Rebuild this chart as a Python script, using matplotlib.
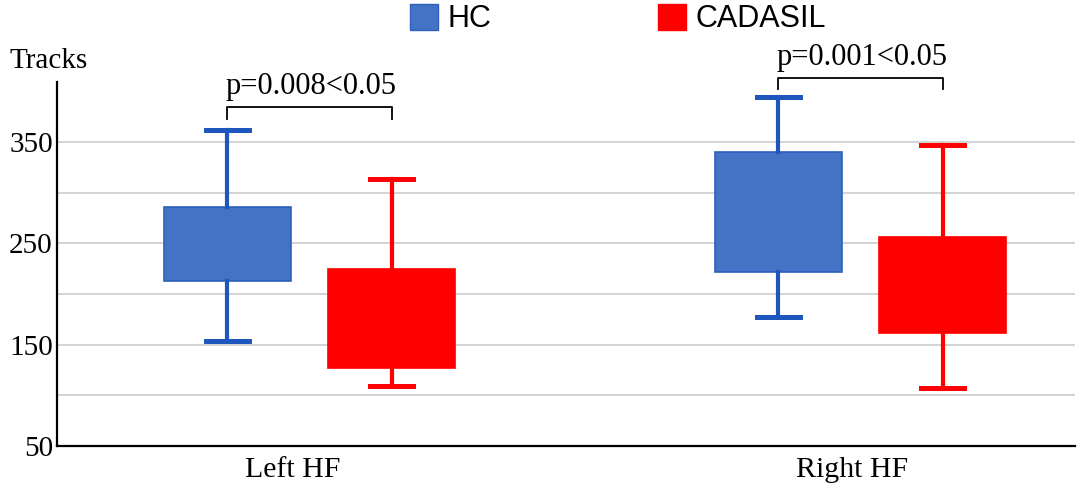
import matplotlib
matplotlib.use("Agg")
import matplotlib.pyplot as plt
from matplotlib.patches import Patch

# ---- data ----
categories = ["Left HF", "Right HF"]
groups = ["HC", "CADASIL"]
hc_whislo = [154, 177]
hc_q1 = [213, 222]
hc_q3 = [286, 340]
hc_whishi = [362, 394]
cad_whislo = [109, 107]
cad_q1 = [127, 161]
cad_q3 = [225, 256]
cad_whishi = [313, 347]
p_labels = ["p=0.008<0.05", "p=0.001<0.05"]
bracket_y = [384, 413]
yticks = [50, 150, 250, 350]
grid_vals = [100, 150, 200, 250, 300, 350]

colors = {"HC": "#4472C4", "CADASIL": "#FF0000"}
edge = {"HC": "#2F5FBF", "CADASIL": "#FF0000"}
whisk = {"HC": "#1F56BE", "CADASIL": "#FF0000"}

fig = plt.figure(figsize=(10.84, 4.92), dpi=100)
ax = fig.add_axes([57/1084, 1-446/492, (1075-57)/1084, (446-82)/492])

offset = 0.149
width = 0.23
cap = 0.078
label_shift = [-0.031, -0.015]
data = {
    "HC": (hc_whislo, hc_q1, hc_q3, hc_whishi),
    "CADASIL": (cad_whislo, cad_q1, cad_q3, cad_whishi),
}
for gi, g in enumerate(groups):
    lo, q1, q3, hi = data[g]
    stats = []
    for i in range(len(categories)):
        stats.append(dict(whislo=lo[i], q1=q1[i], med=q1[i], q3=q3[i], whishi=hi[i]))
    pos = [i + (-offset if gi == 0 else offset) for i in range(len(categories))]
    ax.bxp(stats, positions=pos, widths=width, showfliers=False, patch_artist=True,
           boxprops=dict(facecolor=colors[g], edgecolor=edge[g], linewidth=1.2),
           whiskerprops=dict(color=whisk[g], linewidth=3),
           capprops=dict(color=whisk[g], linewidth=3.6),
           capwidths=cap,
           medianprops=dict(linewidth=0), zorder=3)

for v in grid_vals:
    ax.axhline(v, color="#D3D3D3", linewidth=1.4, zorder=0)

ax.set_xlim(-0.458, 1.389)
ax.set_ylim(50, 409)
ax.set_yticks(yticks)
ax.set_yticklabels([str(t) for t in yticks], fontfamily="Liberation Serif", fontsize=21)
ax.set_xticks([i + label_shift[i] for i in range(len(categories))])
ax.set_xticklabels(categories, fontfamily="Liberation Serif", fontsize=21.5)
ax.tick_params(axis="both", length=0)
ax.tick_params(axis="y", pad=3)
ax.tick_params(axis="x", pad=8)
for s in ["top", "right"]:
    ax.spines[s].set_visible(False)
for s in ["left", "bottom"]:
    ax.spines[s].set_linewidth(1.6)
    ax.spines[s].set_color("black")

# significance brackets
for i in range(len(categories)):
    x1, x2 = i - offset, i + offset
    y = bracket_y[i]
    ax.plot([x1, x1, x2, x2], [y - 11, y, y, y - 11], color="black", linewidth=1.3,
            clip_on=False, zorder=4)
    ax.text(x1 - 0.003, y + 6, p_labels[i], fontfamily="Liberation Serif", fontsize=22,
            ha="left", va="bottom", clip_on=False)

fig.text(10/1084, 1-68/492, "Tracks", fontfamily="Liberation Serif", fontsize=21,
         ha="left", va="baseline")

handles = [Patch(facecolor=colors[g], edgecolor=edge[g]) for g in groups]
leg = fig.legend(handles, groups, loc="upper left", bbox_to_anchor=(395/1084, 1.023),
                 ncol=2, frameon=False, prop={"family": "Liberation Sans", "size": 22},
                 borderpad=0, handlelength=0.92, handleheight=0.92, columnspacing=5.46,
                 handletextpad=0.3)

fig.savefig("out.png", dpi=100)
